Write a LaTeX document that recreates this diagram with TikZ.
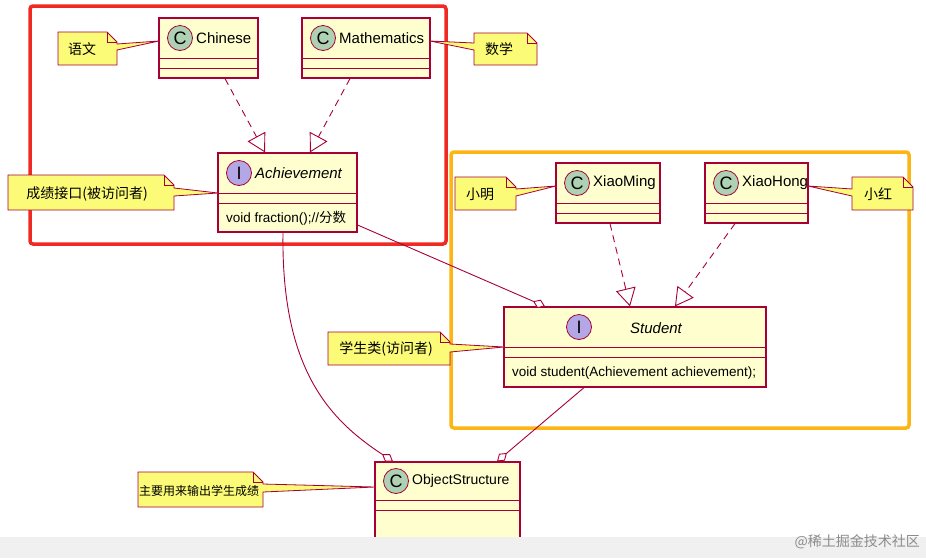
\documentclass[tikz,border=0pt]{standalone}
\usepackage{fontspec}
\setmainfont{Liberation Sans}
\newfontfamily\cjk{Noto Sans CJK SC}
\usetikzlibrary{arrows.meta}
\definecolor{clsfill}{HTML}{FEFECE}
\definecolor{clsline}{HTML}{A80036}
\definecolor{notefill}{HTML}{FBFB77}
\definecolor{cfill}{HTML}{ADD1B2}
\definecolor{ifill}{HTML}{B4A7E5}
\definecolor{frred}{HTML}{F02A22}
\definecolor{fryel}{HTML}{FDB515}
\tikzset{
  cls/.style={draw=clsline, fill=clsfill, line width=1.2pt, inner sep=0pt},
  badge/.style={circle, draw=clsline, line width=0.8pt, minimum size=25pt, inner sep=0pt, font=\fontsize{18}{18}\selectfont},
  lbl/.style={font=\fontsize{15}{17}\selectfont, inner sep=0pt, anchor=west},
  notetxt/.style={font=\cjk\fontsize{14}{16}\selectfont, inner sep=0pt},
  notebg/.style={draw=clsline, fill=notefill, line width=0.8pt},
  conn/.style={draw=clsline, line width=0.9pt},
  real/.style={conn, dashed, dash pattern=on 7pt off 5pt, -{Triangle[open,length=18pt,width=20pt,fill=white]}},
  agg/.style={conn, -{Diamond[open,length=13pt,width=9pt,fill=white]}},
}
\newcommand{\umlclass}[9]{%
  \node[cls, minimum width={#4-#2}, minimum height={#5-#3}] (#1) at ({(#2+#4)/2},{(#3+#5)/2}) {};
  \draw[clsline, line width=1pt] (#2,#6) -- (#4,#6) (#2,#6+10) -- (#4,#6+10);
  \node[badge, fill=#7] (#1b) at (#2+21,{(#3+#6)/2}) {#8};
  \node[lbl] (#1t) at (#2+37,{(#3+#6)/2}) {#9};
}
\begin{document}
\begin{tikzpicture}[x=1pt,y=-1pt]
\useasboundingbox (0,0) rectangle (926,558);
\fill[white] (0,0) rectangle (926,558);
\draw[frred, line width=3.5pt, rounded corners=3pt] (30,6) rectangle (446,244);
\draw[fryel, line width=3.5pt, rounded corners=3pt] (451,152) rectangle (909,428);
\umlclass{chinese}{159}{18}{258}{78}{58}{cfill}{C}{Chinese}
\umlclass{math}{302}{18}{430}{78}{58}{cfill}{C}{Mathematics}
\umlclass{ach}{218}{153}{357}{232}{193}{ifill}{I}{\itshape Achievement}
\node[lbl] (achm) at (226,218) {\fontsize{13.5}{15}\selectfont void fraction();//{\cjk 分数}};
\umlclass{xm}{556}{163}{660}{223}{203}{cfill}{C}{XiaoMing}
\umlclass{xh}{705}{163}{808}{223}{203}{cfill}{C}{XiaoHong}
\node[cls, minimum width=262, minimum height=80] (stu) at (635,347) {};
\draw[clsline, line width=1pt] (504,347) -- (766,347) (504,357) -- (766,357);
\node[badge, fill=ifill] (stub) at (579,327) {I};
\node[lbl] (stut) at (630,328) {\itshape Student};
\node[lbl] (stum) at (512,373) {\fontsize{13.5}{15}\selectfont void student(Achievement achievement);};
\umlclass{os}{375}{462}{520}{545}{500}{cfill}{C}{\fontsize{14}{16}\selectfont ObjectStructure}
% notes
\filldraw[notebg] (58,32) -- (107,32) -- (117,42) -- (117,44) -- (159,41) -- (117,50) -- (117,65) -- (58,65) -- cycle;
\draw[clsline, line width=0.8pt] (107,32) -- (107,42) -- (117,42);
\node[notetxt] (n1) at (82,49) {语文};
\filldraw[notebg] (474,33) -- (527,33) -- (537,43) -- (537,65) -- (474,65) -- (474,50) -- (430,41) -- (474,43) -- cycle;
\draw[clsline, line width=0.8pt] (527,33) -- (527,43) -- (537,43);
\node[notetxt] (n2) at (499,49) {数学};
\filldraw[notebg] (8,175) -- (164,175) -- (174,185) -- (174,188) -- (218,193) -- (174,196) -- (174,210) -- (8,210) -- cycle;
\draw[clsline, line width=0.8pt] (164,175) -- (164,185) -- (174,185);
\node[notetxt] (n3) at (87,194) {成绩接口(被访问者)};
\filldraw[notebg] (455,177) -- (506,177) -- (516,187) -- (516,189) -- (556,186) -- (516,196) -- (516,210) -- (455,210) -- cycle;
\draw[clsline, line width=0.8pt] (506,177) -- (506,187) -- (516,187);
\node[notetxt] (n4) at (480,194) {小明};
\filldraw[notebg] (852,177) -- (903,177) -- (913,187) -- (913,210) -- (852,210) -- (852,196) -- (808,186) -- (852,189) -- cycle;
\draw[clsline, line width=0.8pt] (903,177) -- (903,187) -- (913,187);
\node[notetxt] (n5) at (878,194) {小红};
\filldraw[notebg] (328,332) -- (440,332) -- (450,342) -- (450,344) -- (504,347) -- (450,352) -- (450,365) -- (328,365) -- cycle;
\draw[clsline, line width=0.8pt] (440,332) -- (440,342) -- (450,342);
\node[notetxt] (n6) at (386,349) {学生类(访问者)};
\filldraw[notebg] (138,472) -- (253,472) -- (263,482) -- (263,484) -- (375,487) -- (263,492) -- (263,507) -- (138,507) -- cycle;
\draw[clsline, line width=0.8pt] (253,472) -- (253,482) -- (263,482);
\node[notetxt] (n7) at (199,491) {\fontsize{12}{14}\selectfont 主要用来输出学生成绩};
% connectors
\draw[real] ([xshift=16.5pt]chinese.south) -- ([xshift=-22.5pt]ach.north);
\draw[real] ([xshift=-16pt]math.south) -- ([xshift=22.5pt]ach.north);
\draw[real] ([xshift=2pt]xm.south) -- ([xshift=-5pt]stu.north);
\draw[real] ([xshift=-21.5pt]xh.south) -- ([xshift=40pt]stu.north);
\draw[agg] ([yshift=-32.5pt]ach.east) -- ([xshift=-90pt]stu.north);
\draw[agg] ([xshift=-4.5pt]ach.south) .. controls (281,370) and (330,420) .. ([xshift=-54.5pt]os.north);
\draw[agg] ([xshift=-51pt]stu.south) -- ([xshift=49.5pt]os.north);
\fill[black!6] (0,537) rectangle (926,558);
\node[notetxt, text=black!45, anchor=east] (wm) at (920,542) {@稀土掘金技术社区};
\end{tikzpicture}
\end{document}
